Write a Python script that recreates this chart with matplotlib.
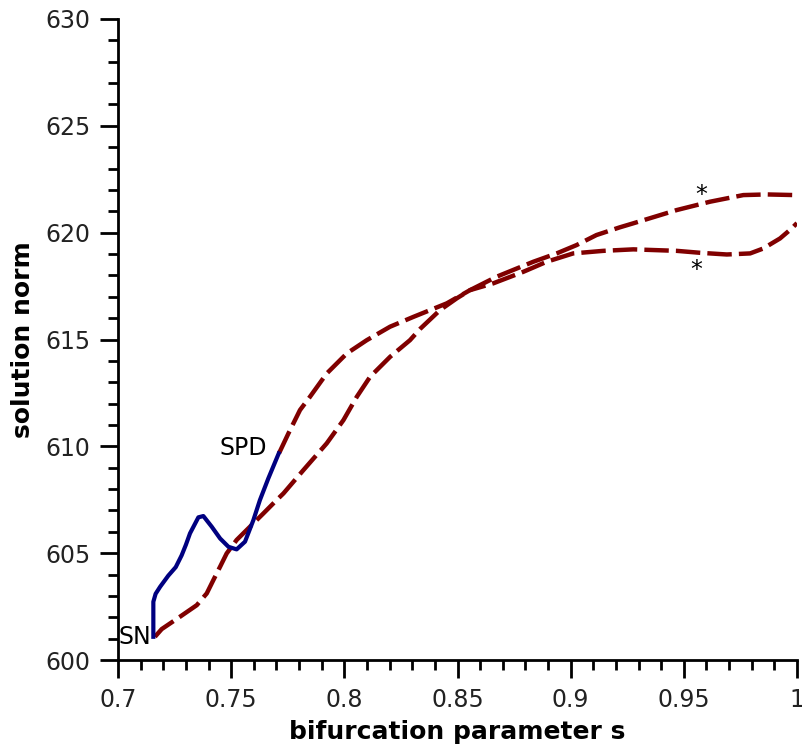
import matplotlib
matplotlib.use('Agg')
import matplotlib.pyplot as plt
from matplotlib.ticker import MultipleLocator, FuncFormatter

# stable branch (solid blue) from SN up to SPD
blue_s = [0.7156, 0.7156, 0.7166, 0.7186, 0.7222, 0.7255, 0.7281, 0.73, 0.7318, 0.7355,
          0.7377, 0.7414, 0.7451, 0.7488, 0.7524, 0.7561, 0.7598, 0.7627, 0.7664, 0.771]
blue_norm = [601.09, 602.73, 603.1, 603.43, 603.95, 604.35, 604.9, 605.4, 605.93, 606.68,
             606.74, 606.24, 605.69, 605.30, 605.18, 605.54, 606.55, 607.49, 608.5, 609.67]

# unstable branch leaving SN (dashed red)
sn_s = [0.7163, 0.7193, 0.7274, 0.7348, 0.7392, 0.7421, 0.7451, 0.748, 0.7524, 0.7583,
        0.7642, 0.7701, 0.7731, 0.7819, 0.7922, 0.7996, 0.8055, 0.8114, 0.8202, 0.829,
        0.8335, 0.8423, 0.8497, 0.8555, 0.8673, 0.8835, 0.8938, 0.9026, 0.9114, 0.9217,
        0.9277, 0.9469, 0.9616, 0.9763, 0.9866, 0.9991]
sn_norm = [601.09, 601.45, 602.03, 602.57, 603.12, 603.74, 604.37, 604.99, 605.62, 606.24,
           606.86, 607.49, 607.80, 608.89, 610.14, 611.23, 612.32, 613.26, 614.19, 614.97,
           615.50, 616.38, 616.93, 617.31, 617.94, 618.64, 619.03, 619.42, 619.89, 620.25,
           620.44, 621.06, 621.45, 621.76, 621.79, 621.76]

# unstable branch leaving SPD (dashed red)
spd_s = [0.7711, 0.7753, 0.7804, 0.7848, 0.7922, 0.8011, 0.8099, 0.8202, 0.8305, 0.8452,
         0.8555, 0.8658, 0.8791, 0.8894, 0.9011, 0.9144, 0.9277, 0.9469, 0.9571, 0.969,
         0.9793, 0.9851, 0.9925, 0.9977, 1.0]
spd_norm = [609.67, 610.61, 611.70, 612.32, 613.41, 614.35, 614.97, 615.60, 616.06, 616.69,
            617.31, 617.63, 618.17, 618.64, 619.03, 619.15, 619.22, 619.15, 619.06, 618.98,
            619.03, 619.26, 619.73, 620.2, 620.45]

fig = plt.figure(figsize=(8.03, 7.45), dpi=100)
ax = fig.add_axes([0.147, 0.114, 0.8455, 0.8605])

red = '#800000'
blue = '#000080'
ax.plot(sn_s, sn_norm, color=red, lw=3.2, dashes=(5.5, 1.6))
ax.plot(spd_s, spd_norm, color=red, lw=3.2, dashes=(5.5, 1.6))
ax.plot(blue_s, blue_norm, color=blue, lw=3.0)

ax.text(0.7148, 601.1, 'SN', fontsize=17, ha='right', va='center')
ax.text(0.7658, 609.92, 'SPD', fontsize=17, ha='right', va='center')
ax.text(0.9576, 621.75, '*', fontsize=17, ha='center', va='center')
ax.text(0.9554, 618.25, '*', fontsize=17, ha='center', va='center')

ax.set_xlim(0.7, 1.0)
ax.set_ylim(600, 630)
ax.xaxis.set_major_locator(MultipleLocator(0.05))
ax.xaxis.set_minor_locator(MultipleLocator(0.01))
ax.yaxis.set_major_locator(MultipleLocator(5))
ax.yaxis.set_minor_locator(MultipleLocator(1))
ax.xaxis.set_major_formatter(FuncFormatter(lambda v, p: '%g' % round(v, 3)))

for side in ['top', 'right']:
    ax.spines[side].set_visible(False)
for side in ['left', 'bottom']:
    ax.spines[side].set_linewidth(2)
ax.tick_params(which='major', direction='out', length=13, width=2, labelsize=17, pad=7,
               colors='black', labelcolor='#222222')
ax.tick_params(which='minor', direction='out', length=7, width=2)

ax.set_xlabel('bifurcation parameter s', fontsize=18, fontweight='bold', labelpad=6)
ax.set_ylabel('solution norm', fontsize=18, fontweight='bold', labelpad=7.5)

fig.savefig('out.png', dpi=100)
